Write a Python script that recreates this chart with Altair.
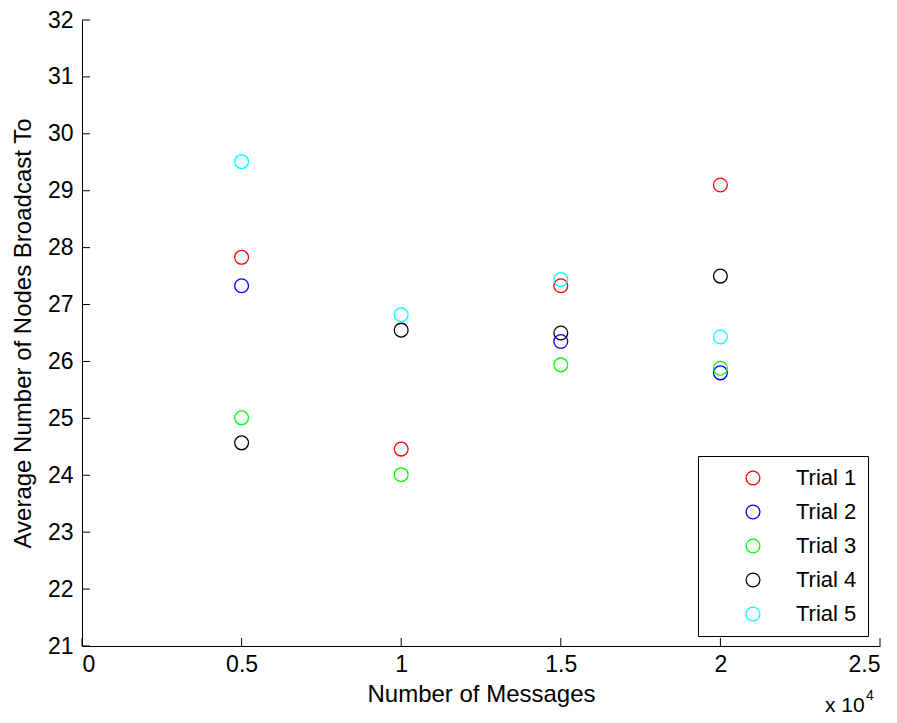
import altair as alt
import pandas as pd

messages = [5000, 10000, 15000, 20000]
trials = ["Trial 1", "Trial 2", "Trial 3", "Trial 4", "Trial 5"]
colors = ["#ff0000", "#0000ff", "#00ff00", "#000000", "#00ffff"]
trial1 = [27.83, 24.46, 27.33, 29.10]
trial2 = [27.33, None, 26.35, 25.80]
trial3 = [25.01, 24.01, 25.94, 25.88]
trial4 = [24.57, 26.55, 26.50, 27.50]
trial5 = [29.51, 26.82, 27.44, 26.43]
x_ticks = [0, 5000, 10000, 15000, 20000, 25000]
y_ticks = [21, 22, 23, 24, 25, 26, 27, 28, 29, 30, 31, 32]
exponent_base = ["x 10"]
exponent_power = ["4"]

rows = []
for i, (name, vals) in enumerate(zip(trials, [trial1, trial2, trial3, trial4, trial5])):
    for m, v in zip(messages, vals):
        if v is not None:
            rows.append({"messages": m, "value": v, "trial": name, "idx": i})
df = pd.DataFrame(rows)

FONT = "Liberation Sans"
W, H = 798, 626

xscale = alt.Scale(domain=[0, 25000], nice=False, zero=False)
yscale = alt.Scale(domain=[21, 32], nice=False, zero=False)
xaxis = alt.Axis(values=x_ticks, labelExpr="'' + datum.value / 10000",
                 title="Number of Messages", labelPadding=7, titlePadding=6)
yaxis = alt.Axis(values=y_ticks, title="Average Number of Nodes Broadcast To",
                 labelPadding=9, titlePadding=12)

points = alt.Chart(df).mark_point(shape="circle", filled=False, size=190, strokeWidth=1.3, opacity=1).encode(
    x=alt.X("messages:Q", scale=xscale, axis=xaxis),
    y=alt.Y("value:Q", scale=yscale, axis=yaxis),
    color=alt.Color("trial:N", scale=alt.Scale(domain=trials, range=colors),
                    legend=alt.Legend(title=None, orient="none", legendX=616, legendY=436,
                                      strokeColor="black", fillColor="white", padding=11,
                                      cornerRadius=0, labelFontSize=22, labelFont=FONT,
                                      labelColor="black", symbolSize=190, symbolStrokeWidth=1.3,
                                      symbolType="circle", symbolOffset=33, labelOffset=32,
                                      rowPadding=12)),
    order=alt.Order("idx:Q"),
)

xt = alt.Chart(pd.DataFrame({"messages": x_ticks})).mark_rule(color="black", strokeWidth=1).encode(
    x=alt.X("messages:Q", scale=xscale, axis=xaxis), y=alt.value(H), y2=alt.value(H - 8))
yt = alt.Chart(pd.DataFrame({"value": y_ticks})).mark_rule(color="black", strokeWidth=1).encode(
    y=alt.Y("value:Q", scale=yscale, axis=yaxis), x=alt.value(0), x2=alt.value(8))

exp1 = alt.Chart(pd.DataFrame({"t": exponent_base})).mark_text(
    font=FONT, fontSize=21, color="black", align="left", baseline="alphabetic").encode(
    text="t:N", x=alt.value(743), y=alt.value(692))
exp2 = alt.Chart(pd.DataFrame({"t": exponent_power})).mark_text(
    font=FONT, fontSize=14, color="black", align="left", baseline="alphabetic").encode(
    text="t:N", x=alt.value(784), y=alt.value(680))

chart = alt.layer(xt, yt, points, exp1, exp2).properties(
    width=W, height=H,
    autosize=alt.AutoSizeParams(type="none"),
    padding={"left": 74, "top": 12, "right": 9, "bottom": 69},
    background="white",
).configure_view(stroke="transparent", strokeWidth=0).configure_axis(
    domainColor="black", domainWidth=1, tickSize=0, grid=False,
    labelFont=FONT, labelFontSize=23, labelColor="black",
    titleFont=FONT, titleFontSize=24, titleColor="black", titleFontWeight="normal",
)

chart.save("out.html", embed_options={"renderer": "svg", "actions": False})
